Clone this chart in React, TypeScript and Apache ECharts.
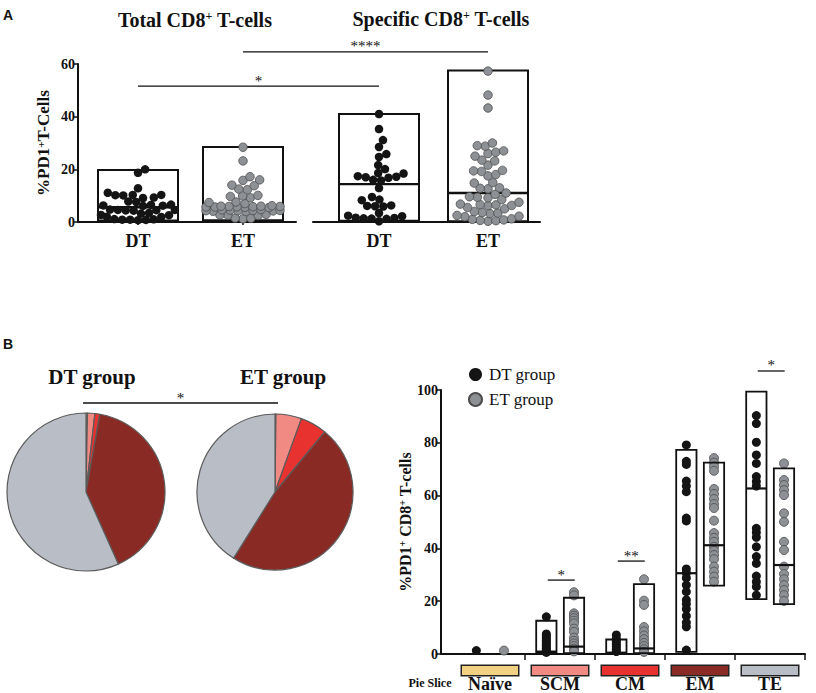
import React, { useEffect, useRef } from 'react';
import * as echarts from 'echarts';

const SERIF = "'Liberation Serif', 'Times New Roman', serif";
const SANS = "'Liberation Sans', Arial, sans-serif";
const INK = '#111111';
const DT_COLOR = '#141414';
const ET_COLOR = '#8d9196';
const ET_BORDER = '#4d4d4d';

// ---------- Panel A data ----------
const aCats = ['DT', 'ET'];
const aTicks = [0, 20, 40, 60];
const totalDT = [20.0, 18.7, 12.8, 11.1, 10.3, 10.3, 10.2, 10.1, 9.3, 9.1, 7.8, 7.6, 6.6, 6.5, 6.3, 6.2, 6.1, 4.7, 4.6, 4.6, 4.5, 4.4, 4.3, 3.4, 3.2, 2.7, 2.6, 2.0, 1.9, 1.1, 1.0, 0.9, 0.9, 0.8, 0.7];
const totalET = [28.4, 23.2, 17.2, 16.0, 15.8, 14.0, 13.8, 12.5, 12.3, 10.1, 9.9, 9.7, 9.2, 7.6, 7.4, 7.0, 6.2, 6.0, 6.0, 5.9, 5.9, 5.8, 5.8, 5.7, 5.7, 5.6, 5.5, 4.7, 4.6, 4.5, 4.4, 4.4, 4.3, 4.3, 4.2, 4.1, 4.0, 2.9, 2.7, 2.6, 2.5, 1.5, 1.4, 1.2];
const specificDT = [41.0, 35.3, 31.1, 28.5, 25.8, 24.7, 21.6, 20.1, 18.6, 18.4, 17.4, 17.2, 17.0, 16.8, 16.0, 15.8, 12.9, 9.5, 8.5, 8.3, 6.3, 6.1, 6.0, 5.9, 3.4, 2.4, 2.2, 1.6, 1.5, 1.4, 1.3, 1.2, 0.3];
const specificET = [57.3, 48.2, 43.3, 30.0, 29.0, 28.8, 27.0, 26.5, 26.0, 25.0, 23.5, 23.2, 21.6, 19.6, 19.4, 19.2, 18.0, 17.5, 15.0, 14.8, 13.0, 12.8, 12.6, 11.0, 10.5, 9.6, 9.4, 9.2, 8.5, 7.5, 6.8, 6.6, 6.5, 6.3, 6.2, 5.5, 5.0, 4.0, 3.6, 3.4, 3.2, 2.5, 2.2, 2.0, 1.2, 1.0, 0.8, 0.6, 0.5, 0.3];
// order: Total DT, Total ET, Specific DT, Specific ET
const aBoxMin = [0.6, 0.7, 0.5, 0.3];
const aBoxMax = [19.7, 28.5, 41.0, 57.5];
const aMedian = [5.6, 5.5, 14.4, 11.0];

// ---------- Panel B data ----------
const subsets = ['Naïve', 'SCM', 'CM', 'EM', 'TE'];
const sliceColors = ['#f3d183', '#f28a84', '#e8322f', '#8a2a25', '#b9bdc5'];
const pieDT = [0.3, 1.5, 1.0, 40.5, 56.7];
const pieET = [0.2, 5.3, 5.5, 47.9, 41.1];

const bTicks = [0, 20, 40, 60, 80, 100];
const bDT = [
  [1.3],
  [14.1, 7.6, 6.8, 6.0, 5.2, 4.4, 3.6, 2.8, 2.0, 1.3, 0.6],
  [7.2, 5.8, 4.8, 3.8, 2.8, 1.8, 0.9],
  [79.2, 73.0, 71.8, 65.5, 63.6, 61.5, 51.5, 50.4, 32.2, 30.7, 28.8, 26.1, 23.6, 20.5, 18.9, 17.0, 14.4, 11.9, 10.3, 1.5],
  [100.9, 90.3, 87.3, 80.2, 75.4, 72.2, 67.2, 65.3, 63.6, 47.6, 46.0, 44.2, 40.6, 36.9, 34.3, 29.5, 27.4, 25.5, 22.3],
];
const bET = [
  [1.3],
  [23.4, 22.2, 15.4, 14.5, 13.6, 12.6, 11.6, 9.6, 8.4, 6.2, 5.0, 4.0, 3.0, 2.0, 1.0],
  [28.3, 20.2, 18.6, 10.2, 8.6, 7.0, 5.6, 4.2, 3.0, 1.8, 0.8],
  [74.2, 72.5, 71.0, 69.4, 62.5, 60.6, 58.7, 56.8, 55.3, 50.5, 45.8, 44.0, 42.5, 40.6, 39.1, 37.5, 35.9, 33.1, 31.2, 29.3, 27.4],
  [72.2, 65.9, 64.0, 62.1, 60.2, 53.3, 50.1, 42.5, 39.4, 33.1, 30.3, 28.3, 26.1, 24.2, 22.3, 20.1],
];
const bDTMin = [null, 0.7, 0.3, 0.8, 20.8];
const bDTMax = [null, 12.6, 5.5, 77.3, 99.4];
const bDTMed = [null, 0.9, 0.5, 30.6, 62.7];
const bETMin = [null, 0.3, 0.3, 25.9, 18.9];
const bETMax = [null, 21.3, 26.5, 72.5, 70.3];
const bETMed = [null, 2.8, 2.1, 41.2, 33.7];
// significance brackets in panel B: category index, height (value), label
const bSigCat = [1, 2, 4];
const bSigY = [28.0, 35.2, 107.2];
const bSigText = ['*', '**', '*'];

// ---------- layout ----------
const A_TOP = 64;
const A_H = 158;
const A1_LEFT = 78;
const A1_W = 218;
const A2_LEFT = 313;
const A2_W = 227;
const A1_CENTERS = [60, 165];
const A2_CENTERS = [66, 175];
const A_HALF = 40;
const DOT_A = 8.5;
const B_LEFT = 441;
const B_TOP = 390;
const B_W = 364;
const B_H = 264;
const B_XMAX = 5.2;
const B_DT_OFF = 0.505;
const B_ET_OFF = 0.9;
const B_CENTER_OFF = 0.7;
const B_HALF = 0.145;

// beeswarm: horizontal offsets derived from the values so dots do not pile up
function swarm(values: number[], cx: number, d: number, pxPerY: number, maxOff: number): number[][] {
  const placed: { x: number; y: number }[] = [];
  const out: number[][] = [];
  const sorted = [...values].sort((a, b) => a - b);
  for (const v of sorted) {
    const yp = v * pxPerY;
    const near = placed.filter((p) => Math.abs(p.y - yp) < d);
    const cands = [0];
    for (const p of near) {
      const dx = Math.sqrt(d * d - (p.y - yp) * (p.y - yp));
      cands.push(p.x + dx, p.x - dx);
    }
    cands.sort((a, b) => Math.abs(a) - Math.abs(b));
    let chosen: number | null = null;
    for (const c of cands) {
      if (Math.abs(c) > maxOff) continue;
      if (near.every((p) => (p.x - c) * (p.x - c) + (p.y - yp) * (p.y - yp) >= d * d - 1e-6)) {
        chosen = c;
        break;
      }
    }
    if (chosen === null) {
      let best = 0;
      let bestScore = Infinity;
      for (let c = -maxOff; c <= maxOff; c += 1) {
        const score = near.reduce((s, p) => s + Math.max(0, d - Math.hypot(p.x - c, p.y - yp)), 0);
        if (score < bestScore) {
          bestScore = score;
          best = c;
        }
      }
      chosen = best;
    }
    placed.push({ x: chosen, y: yp });
    out.push([cx + chosen, v]);
  }
  return out;
}

function boxRenderer(halfW: number, lw: number) {
  return (params: any, api: any) => {
    const x = api.value(0);
    const lo = api.value(1);
    const hi = api.value(2);
    const med = api.value(3);
    const tl = api.coord([x - halfW, hi]);
    const br = api.coord([x + halfW, lo]);
    const m = api.coord([x, med]);
    return {
      type: 'group',
      children: [
        {
          type: 'rect',
          shape: { x: tl[0], y: tl[1], width: br[0] - tl[0], height: br[1] - tl[1] },
          style: { fill: 'rgba(255,255,255,0)', stroke: INK, lineWidth: lw },
        },
        {
          type: 'line',
          shape: { x1: tl[0], y1: m[1], x2: br[0], y2: m[1] },
          style: { stroke: INK, lineWidth: lw + 0.4 },
        },
      ],
    };
  };
}

const supRich = (size: number) => ({
  s: { fontFamily: SERIF, fontWeight: 'bold', fontSize: size, verticalAlign: 'top', padding: [0, 0, 0, 0] },
});

export default function App() {
  const ref = useRef<HTMLDivElement>(null);
  useEffect(() => {
    if (!ref.current) return;
    const chart = echarts.init(ref.current, undefined, { renderer: 'svg' });
    const pxPerY = A_H / (aTicks[aTicks.length - 1] - aTicks[0]);
    const dotD = 7.9;

    const yAxisA = (show: boolean, grid: number) => ({
      type: 'value',
      gridIndex: grid,
      min: aTicks[0],
      max: aTicks[aTicks.length - 1],
      interval: aTicks[1] - aTicks[0],
      show,
      name: show ? '%PD1{s|+}T-Cells' : '',
      nameLocation: 'middle',
      nameRotate: 90,
      nameGap: 26,
      nameTextStyle: { fontFamily: SERIF, fontWeight: 'bold', fontSize: 17, color: INK, rich: supRich(11) },
      axisLine: { show: true, lineStyle: { color: INK, width: 2 } },
      axisTick: { show: true, length: 5, lineStyle: { color: INK, width: 1.5 } },
      axisLabel: { fontFamily: SERIF, fontWeight: 'bold', fontSize: 14, color: INK, margin: 3 },
      splitLine: { show: false },
    });
    const xAxisA = (grid: number, w: number, centers: number[]) => ({
      type: 'value',
      gridIndex: grid,
      min: 0,
      max: w,
      axisLine: { show: true, onZero: false, lineStyle: { color: INK, width: 2 } },
      axisTick: { show: true, customValues: centers, length: 3, lineStyle: { color: INK, width: 1.5 } },
      axisLabel: {
        show: true,
        customValues: centers,
        formatter: (v: number) => aCats[centers.indexOf(v)] ?? '',
        fontFamily: SERIF,
        fontWeight: 'bold',
        fontSize: 18,
        color: INK,
        margin: 10,
      },
      splitLine: { show: false },
    });

    const scatterA = (name: string, grid: number, vals: number[], cx: number, isET: boolean) => ({
      type: 'scatter',
      name,
      xAxisIndex: grid,
      yAxisIndex: grid,
      data: swarm(vals, cx, dotD, pxPerY, A_HALF - 3),
      symbolSize: DOT_A,
      z: 3,
      itemStyle: isET
        ? { color: ET_COLOR, borderColor: ET_BORDER, borderWidth: 0.8, opacity: 1 }
        : { color: DT_COLOR, opacity: 1 },
      silent: true,
    });

    const boxesA = (grid: number, centers: number[], offset: number) => ({
      type: 'custom',
      xAxisIndex: grid,
      yAxisIndex: grid,
      renderItem: boxRenderer(A_HALF, 2),
      encode: { x: 0, y: [1, 2, 3] },
      clip: false,
      z: 2,
      silent: true,
      data: centers.map((c, i) => [c, aBoxMin[offset + i], aBoxMax[offset + i], aMedian[offset + i]]),
    });

    const boxDataB = (off: number, mins: any[], maxs: any[], meds: any[]) =>
      subsets
        .map((_, k) => (mins[k] == null ? null : [k + off, mins[k], maxs[k], meds[k]]))
        .filter((d) => d !== null);

    const pie = (center: number[], r: number, vals: number[]) => ({
      type: 'pie',
      center,
      radius: r,
      startAngle: 90,
      clockwise: true,
      silent: true,
      avoidLabelOverlap: false,
      label: { show: false },
      labelLine: { show: false },
      itemStyle: { borderColor: '#5b5b5b', borderWidth: 1.2 },
      data: vals.map((v, i) => ({ value: v, name: 'slice-' + subsets[i], itemStyle: { color: sliceColors[i] } })),
    });

    const option: any = {
      animation: false,
      backgroundColor: '#ffffff',
      legend: {
        data: ['DT group', 'ET group'],
        orient: 'vertical',
        left: 468,
        top: 366,
        padding: 0,
        itemWidth: 13,
        itemHeight: 13,
        itemGap: 8,
        icon: 'circle',
        selectedMode: false,
        textStyle: { fontFamily: SERIF, fontSize: 17, color: INK, padding: [0, 0, 0, 2] },
      },
      grid: [
        { left: A1_LEFT, top: A_TOP, width: A1_W, height: A_H },
        { left: A2_LEFT, top: A_TOP, width: A2_W, height: A_H },
        { left: B_LEFT, top: B_TOP, width: B_W, height: B_H },
      ],
      xAxis: [
        xAxisA(0, A1_W, A1_CENTERS),
        xAxisA(1, A2_W, A2_CENTERS),
        {
          type: 'value',
          gridIndex: 2,
          min: 0,
          max: B_XMAX,
          axisLine: { show: true, onZero: false, lineStyle: { color: INK, width: 2 } },
          axisTick: {
            show: true,
            customValues: subsets.map((_, k) => k + 1.2),
            length: 6,
            lineStyle: { color: INK, width: 1.5 },
          },
          axisLabel: {
            show: true,
            customValues: subsets.map((_, k) => k + B_CENTER_OFF),
            formatter: (v: number) => {
              const k = Math.round(v - B_CENTER_OFF);
              return `{b${k}|}\n{t|${subsets[k]}}`;
            },
            margin: 12,
            rich: {
              ...Object.fromEntries(
                sliceColors.map((c, k) => [
                  'b' + k,
                  { width: 56, height: 9, backgroundColor: c, borderColor: '#222', borderWidth: 1.5 },
                ])
              ),
              t: { fontFamily: SERIF, fontWeight: 'bold', fontSize: 18, color: INK, lineHeight: 17, padding: [0, 0, 0, 0] },
            },
          },
          splitLine: { show: false },
        },
      ],
      yAxis: [
        yAxisA(true, 0),
        yAxisA(false, 1),
        {
          type: 'value',
          gridIndex: 2,
          min: bTicks[0],
          max: bTicks[bTicks.length - 1],
          interval: bTicks[1] - bTicks[0],
          name: '%PD1{s|+} CD8{s|+} T-cells',
          nameLocation: 'middle',
          nameRotate: 90,
          nameGap: 26,
          nameTextStyle: { fontFamily: SERIF, fontWeight: 'bold', fontSize: 16, color: INK, rich: supRich(10) },
          axisLine: { show: true, lineStyle: { color: INK, width: 2 } },
          axisTick: { show: true, length: 5, lineStyle: { color: INK, width: 1.5 } },
          axisLabel: { fontFamily: SERIF, fontWeight: 'bold', fontSize: 14, color: INK, margin: 3 },
          splitLine: { show: false },
        },
      ],
      series: [
        boxesA(0, A1_CENTERS, 0),
        scatterA('A Total DT', 0, totalDT, A1_CENTERS[0], false),
        scatterA('A Total ET', 0, totalET, A1_CENTERS[1], true),
        boxesA(1, A2_CENTERS, 2),
        scatterA('A Specific DT', 1, specificDT, A2_CENTERS[0], false),
        scatterA('A Specific ET', 1, specificET, A2_CENTERS[1], true),
        pie([86, 492], 79, pieDT),
        pie([275, 492], 78, pieET),
        {
          type: 'scatter',
          name: 'DT group',
          xAxisIndex: 2,
          yAxisIndex: 2,
          symbolSize: 9,
          z: 2,
          silent: true,
          itemStyle: { color: DT_COLOR, opacity: 1 },
          data: bDT.flatMap((vals, k) => vals.map((v) => [k + B_DT_OFF, v])),
        },
        {
          type: 'scatter',
          name: 'ET group',
          xAxisIndex: 2,
          yAxisIndex: 2,
          symbolSize: 9,
          z: 2,
          silent: true,
          itemStyle: { color: ET_COLOR, borderColor: ET_BORDER, borderWidth: 0.8, opacity: 1 },
          data: bET.flatMap((vals, k) => vals.map((v) => [k + B_ET_OFF, v])),
        },
        {
          type: 'custom',
          xAxisIndex: 2,
          yAxisIndex: 2,
          renderItem: boxRenderer(B_HALF, 1.8),
          encode: { x: 0, y: [1, 2, 3] },
          clip: false,
          z: 3,
          silent: true,
          data: [
            ...boxDataB(B_DT_OFF, bDTMin, bDTMax, bDTMed),
            ...boxDataB(B_ET_OFF, bETMin, bETMax, bETMed),
          ],
        },
      ],
    };
    chart.setOption(option);

    // annotations positioned through the axes
    const px = (grid: number, pt: number[]) => chart.convertToPixel({ gridIndex: grid } as any, pt) as number[];
    const gfx: any[] = [];
    const sigLine = (x1: number, x2: number, y: number, text: string, size = 15) => {
      gfx.push({
        type: 'line',
        shape: { x1, y1: y, x2, y2: y },
        style: { stroke: INK, lineWidth: 1.3 },
        silent: true,
      });
      gfx.push({
        type: 'text',
        x: (x1 + x2) / 2,
        y: y + 2,
        style: { text, font: `${size}px ${SERIF}`, fill: INK, align: 'center', verticalAlign: 'bottom' },
        silent: true,
      });
    };
    const aStarLow = px(0, [A1_CENTERS[0], 51.6]);
    const aStarLowEnd = px(1, [A2_CENTERS[0], 51.6]);
    sigLine(aStarLow[0], aStarLowEnd[0], aStarLow[1], '*');
    const aStarHigh = px(0, [A1_CENTERS[1], 64.6]);
    const aStarHighEnd = px(1, [A2_CENTERS[1], 64.6]);
    sigLine(aStarHigh[0], aStarHighEnd[0], aStarHigh[1], '****');
    bSigCat.forEach((k, i) => {
      const p1 = px(2, [k + B_DT_OFF + 0.02, bSigY[i]]);
      const p2 = px(2, [k + B_ET_OFF + 0.01, bSigY[i]]);
      sigLine(p1[0], p2[0], p1[1], bSigText[i]);
    });
    sigLine(83, 278, 403, '*');

    const txt = (x: number, y: number, text: string, font: string, rich?: any) => ({
      type: 'text',
      x,
      y,
      silent: true,
      style: { text, font, fill: INK, align: 'center', verticalAlign: 'middle', rich },
    });
    const titleRich = (size: number) => ({
      m: { fontFamily: SERIF, fontWeight: 'bold', fontSize: size, fill: INK, color: INK },
      s: { fontFamily: SERIF, fontWeight: 'bold', fontSize: Math.round(size * 0.6), fill: INK, color: INK, verticalAlign: 'top' },
    });
    gfx.push(
      { type: 'text', x: 3, y: 8, silent: true, style: { text: 'A', font: `bold 14px ${SANS}`, fill: INK } },
      { type: 'text', x: 3, y: 337, silent: true, style: { text: 'B', font: `bold 14px ${SANS}`, fill: INK } },
      txt(195, 20, '{m|Total CD8}{s|+}{m| T-cells}', `bold 20px ${SERIF}`, titleRich(20)),
      txt(441, 19, '{m|Specific CD8}{s|+}{m| T-cells}', `bold 20px ${SERIF}`, titleRich(20)),
      txt(92, 377, 'DT group', `bold 21px ${SERIF}`),
      txt(283, 377, 'ET group', `bold 21px ${SERIF}`),
      txt(430, 683, 'Pie Slice', `bold 12px ${SERIF}`)
    );
    chart.setOption({ graphic: gfx });

    return () => chart.dispose();
  }, []);
  return <div ref={ref} style={{ position: 'fixed', left: 0, top: 0, width: 816, height: 693 }} />;
}
